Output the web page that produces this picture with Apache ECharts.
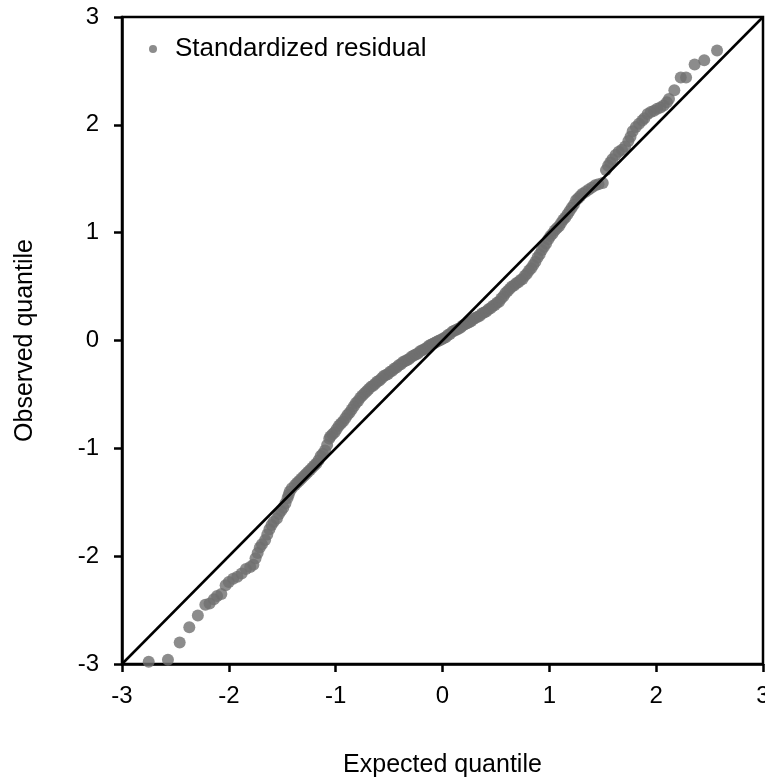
<!DOCTYPE html>
<html>
<head>
<meta charset="utf-8">
<script src="https://cdn.jsdelivr.net/npm/echarts@6/dist/echarts.min.js"></script>
<style>
  html, body { margin: 0; padding: 0; background: #fff; }
  #chart { width: 765px; height: 780px; }
</style>
</head>
<body>
<div id="chart"></div>
<script>
// Q-Q points, split in three stretches
// lower tail
const lowerX = [-2.75,-2.57,-2.46,-2.37,-2.29,-2.22,-2.18,-2.14,-2.11,-2.07,
  -2.03,-2.00,-1.96,-1.92,-1.88,-1.84,-1.80,-1.77,-1.75,-1.73,
  -1.71,-1.69,-1.66,-1.64,-1.62,-1.60,-1.58,-1.55,-1.53,-1.51,
  -1.49,-1.47];
const lowerY = [-2.98,-2.96,-2.80,-2.66,-2.55,-2.45,-2.44,-2.40,-2.37,-2.35,
  -2.27,-2.24,-2.21,-2.19,-2.16,-2.12,-2.10,-2.08,-2.02,-1.97,
  -1.92,-1.89,-1.85,-1.80,-1.75,-1.71,-1.68,-1.65,-1.61,-1.58,
  -1.55,-1.51];
// middle band
const midX = [-1.45,-1.44,-1.43,-1.41,-1.38,-1.36,-1.34,-1.32,-1.30,-1.28,
  -1.26,-1.24,-1.22,-1.20,-1.18,-1.16,-1.14,-1.12,-1.10,-1.08,
  -1.06,-1.05,-1.03,-1.01,-0.99,-0.97,-0.95,-0.93,-0.91,-0.89,
  -0.87,-0.85,-0.83,-0.81,-0.79,-0.77,-0.75,-0.73,-0.71,-0.69,
  -0.67,-0.65,-0.63,-0.61,-0.59,-0.57,-0.55,-0.53,-0.51,-0.49,
  -0.47,-0.45,-0.43,-0.41,-0.39,-0.37,-0.35,-0.33,-0.31,-0.29,
  -0.27,-0.25,-0.23,-0.21,-0.19,-0.17,-0.15,-0.13,-0.11,-0.09,
  -0.07,-0.05,-0.03,-0.01,0.01,0.03,0.05,0.07,0.09,0.11,
  0.13,0.15,0.17,0.19,0.21,0.23,0.25,0.27,0.29,0.31,
  0.33,0.35,0.37,0.39,0.41,0.43,0.45,0.47,0.49,0.51,
  0.53,0.55,0.57,0.59,0.61,0.63,0.65,0.67,0.69,0.71,
  0.73,0.75,0.77,0.79,0.81,0.83,0.85,0.87,0.89,0.91,
  0.93,0.95,0.97,0.99,1.01,1.03,1.05,1.07,1.09,1.11,
  1.13,1.15,1.17,1.19,1.21,1.23,1.25,1.27,1.29,1.31,
  1.34,1.37,1.40,1.43,1.46,1.50];
const midY = [-1.46,-1.43,-1.40,-1.37,-1.34,-1.32,-1.30,-1.28,-1.26,-1.24,
  -1.22,-1.20,-1.18,-1.16,-1.14,-1.11,-1.07,-1.05,-1.02,-0.97,
  -0.91,-0.89,-0.87,-0.85,-0.82,-0.79,-0.77,-0.75,-0.72,-0.69,
  -0.67,-0.64,-0.61,-0.58,-0.56,-0.53,-0.51,-0.49,-0.47,-0.45,
  -0.43,-0.42,-0.40,-0.38,-0.37,-0.35,-0.33,-0.32,-0.31,-0.29,
  -0.28,-0.26,-0.25,-0.23,-0.22,-0.20,-0.19,-0.18,-0.17,-0.15,
  -0.14,-0.13,-0.12,-0.10,-0.09,-0.08,-0.07,-0.05,-0.04,-0.03,
  -0.02,-0.01,0.00,0.01,0.02,0.03,0.05,0.06,0.08,0.09,
  0.10,0.11,0.12,0.14,0.15,0.16,0.17,0.18,0.20,0.21,
  0.22,0.23,0.25,0.26,0.27,0.29,0.30,0.32,0.33,0.35,
  0.36,0.39,0.41,0.44,0.46,0.48,0.50,0.51,0.53,0.54,
  0.56,0.57,0.60,0.62,0.65,0.67,0.70,0.73,0.77,0.80,
  0.84,0.87,0.90,0.94,0.97,0.99,1.02,1.04,1.06,1.09,
  1.12,1.14,1.17,1.20,1.23,1.26,1.30,1.32,1.34,1.36,
  1.38,1.40,1.42,1.44,1.45,1.46];
// upper tail
const upperX = [1.53,1.55,1.57,1.59,1.62,1.65,1.68,1.71,1.74,1.76,
  1.78,1.81,1.84,1.87,1.89,1.92,1.95,1.98,2.01,2.04,
  2.07,2.10,2.12,2.17,2.23,2.28,2.36,2.45,2.57];
const upperY = [1.58,1.62,1.65,1.68,1.72,1.75,1.77,1.80,1.85,1.89,
  1.94,1.98,2.01,2.04,2.06,2.10,2.12,2.13,2.15,2.16,
  2.18,2.21,2.24,2.32,2.44,2.44,2.56,2.60,2.69];
// reference 1:1 line
const refX = [-3, 3];
const refY = [-3, 3];

const FONT = '"Liberation Sans", Arial, sans-serif';

const expectedQ = lowerX.concat(midX, upperX);
const observedQ = lowerY.concat(midY, upperY);

const chart = echarts.init(document.getElementById('chart'));

const axisCommon = {
    type: 'value',
    min: -3,
    max: 3,
    interval: 1,
    nameLocation: 'middle',
    nameTextStyle: { color: '#000', fontSize: 25, fontFamily: FONT },
    axisLine: { show: true, onZero: false, lineStyle: { color: '#000', width: 2.5 } },
    axisTick: { show: true, inside: false, length: 8, lineStyle: { color: '#000', width: 2.5 } },
    axisLabel: { color: '#000', fontSize: 24, fontFamily: FONT },
    splitLine: { show: false }
};

chart.setOption({
    animation: false,
    backgroundColor: '#fff',
    grid: {
        left: 122, right: 2, top: 17, bottom: 116,
        outerBoundsMode: 'none',
        containLabel: false,
        show: true,
        borderColor: '#000',
        borderWidth: 2.5
    },
    legend: {
        data: ['Standardized residual'],
        left: 149,
        top: 36,
        padding: 0,
        icon: 'circle',
        itemWidth: 8,
        itemHeight: 8,
        itemGap: 10,
        textStyle: { color: '#000', fontSize: 26, fontFamily: FONT, padding: [0, 0, 0, 13] }
    },
    xAxis: Object.assign({}, axisCommon, {
        name: 'Expected quantile',
        nameGap: 89,
        axisLabel: Object.assign({}, axisCommon.axisLabel, { margin: 20 })
    }),
    yAxis: Object.assign({}, axisCommon, {
        name: 'Observed quantile',
        nameGap: 84,
        axisLabel: Object.assign({}, axisCommon.axisLabel, { margin: 23 })
    }),
    series: [
        {
            name: 'Standardized residual',
            type: 'scatter',
            symbol: 'circle',
            symbolSize: 12,
            itemStyle: { color: '#6f6f6f' },
            data: expectedQ.map((x, i) => [x, observedQ[i]]),
            z: 2
        },
        {
            name: 'ref',
            type: 'line',
            symbol: 'none',
            lineStyle: { color: '#000', width: 2.5 },
            data: refX.map((x, i) => [x, refY[i]]),
            z: 3
        }
    ]
});

window.addEventListener('resize', function () {
    chart.resize();
});
</script>
</body>
</html>
